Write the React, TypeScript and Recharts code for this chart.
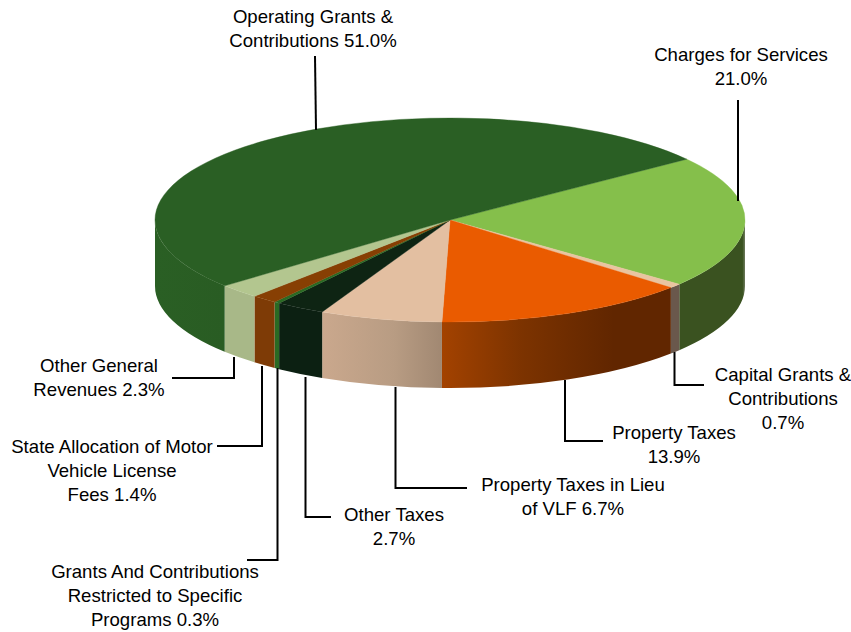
import { PieChart, Pie, Cell } from 'recharts';

const RADIUS_X = 295;
const RADIUS_Y = 102;
const DEPTH = 66;
const CENTER_X = 450;
const CENTER_Y = 220;
const START_ANGLE = 36.6;

const categories = [
  'Charges for Services',
  'Capital Grants & Contributions',
  'Property Taxes',
  'Property Taxes in Lieu of VLF',
  'Other Taxes',
  'Grants And Contributions Restricted to Specific Programs',
  'State Allocation of Motor Vehicle License Fees',
  'Other General Revenues',
  'Operating Grants & Contributions',
];
const shares = [21.0, 0.7, 13.9, 6.7, 2.7, 0.3, 1.4, 2.3, 51.0];
const topColors = ['#85bf4b', '#e9c4a0', '#ea5b00', '#e3bfa1', '#0e2413', '#2a6a24', '#873f03', '#b3c68f', '#2a5f24'];

// wall shading, left to right across each slice
const wallStops = [
  [[0, '#3a5220'], [0.96, '#3a5220'], [1, '#6d7a5c']],
  [[0, '#6a584c'], [1, '#6a584c']],
  [[0, '#a34200'], [0.35, '#7c3300'], [0.75, '#612600'], [1, '#612600']],
  [[0, '#caa88d'], [0.6, '#b89c83'], [1, '#a18872']],
  [[0, '#0c2012'], [1, '#0c2012']],
  [[0, '#2a6a24'], [1, '#2a6a24']],
  [[0, '#7e3b06'], [1, '#7e3b06']],
  [[0, '#a8b888'], [1, '#a8b888']],
  [[0, '#2a5f24'], [1, '#295c23']],
] as [number, string][][];

const labelLines = [
  ['Charges for Services', '21.0%'],
  ['Capital Grants &', 'Contributions', '0.7%'],
  ['Property Taxes', '13.9%'],
  ['Property Taxes in Lieu', 'of VLF 6.7%'],
  ['Other Taxes', '2.7%'],
  ['Grants And Contributions', 'Restricted to Specific', 'Programs 0.3%'],
  ['State Allocation of Motor', 'Vehicle License', 'Fees 1.4%'],
  ['Other General', 'Revenues 2.3%'],
  ['Operating Grants &', 'Contributions 51.0%'],
];

// label anchor (centre x, first baseline y) and leader line, by slice
const labelLayout: { x: number; y: number; line: string }[] = [
  { x: 741, y: 61, line: '738,100 738,201' },
  { x: 783, y: 381, line: '674.5,352 674.5,385 704,385' },
  { x: 674, y: 439, line: '565,380 565,441 603,441' },
  { x: 573, y: 491, line: '395.5,387 395.5,488 467,488' },
  { x: 394, y: 521, line: '305.5,377 305.5,517 331,517' },
  { x: 155, y: 578, line: '277.5,368 277.5,560 247,560' },
  { x: 112, y: 453, line: '262,366 262,446 217,446' },
  { x: 99, y: 372, line: '234,357 234,378 172,378' },
  { x: 313, y: 23, line: '315,56 316,130' },
];

const tableData = categories.map((name, i) => ({ name, value: shares[i] }));

const rimPoint = (deg: number, drop = 0) => {
  const a = (deg * Math.PI) / 180;
  return [CENTER_X + RADIUS_X * Math.cos(a), CENTER_Y - RADIUS_Y * Math.sin(a) + drop];
};

// draws one slice as a flattened wedge plus the visible part of its wall
const Slice3D = (props: any) => {
  const { startAngle, endAngle, name } = props;
  const idx = categories.indexOf(name);
  const [sx, sy] = rimPoint(startAngle);
  const [ex, ey] = rimPoint(endAngle);
  const large = startAngle - endAngle > 180 ? 1 : 0;
  const top = `M${CENTER_X},${CENTER_Y} L${sx},${sy} A${RADIUS_X},${RADIUS_Y} 0 ${large} 1 ${ex},${ey} Z`;

  const hi = Math.min(startAngle, 0);
  const lo = Math.max(endAngle, -180);
  let wall = null;
  if (hi > lo) {
    const [ax, ay] = rimPoint(hi);
    const [bx, by] = rimPoint(lo);
    const [cx, cy] = rimPoint(lo, DEPTH);
    const [dx, dy] = rimPoint(hi, DEPTH);
    wall = (
      <>
        <defs>
          <linearGradient id={`wall-${idx}`} x1="0" y1="0" x2="1" y2="0">
            {wallStops[idx].map(([o, c]) => (
              <stop key={o} offset={o} stopColor={c} />
            ))}
          </linearGradient>
        </defs>
        <path
          d={`M${ax},${ay} A${RADIUS_X},${RADIUS_Y} 0 0 1 ${bx},${by} L${cx},${cy} A${RADIUS_X},${RADIUS_Y} 0 0 0 ${dx},${dy} Z`}
          fill={`url(#wall-${idx})`}
        />
      </>
    );
  }
  return (
    <g>
      {wall}
      <path d={top} fill={topColors[idx]} stroke={topColors[idx]} strokeWidth={0.4} />
    </g>
  );
};

const SliceLabel = (props: any) => {
  const idx = categories.indexOf(props.name);
  const pos = labelLayout[idx];
  return (
    <g>
      <polyline points={pos.line} fill="none" stroke="#000" strokeWidth={2} />
      <text x={pos.x} y={pos.y} textAnchor="middle" fontFamily="Liberation Sans" fontSize={18.6} fill="#000">
        {labelLines[idx].map((t, i) => (
          <tspan key={t} x={pos.x} y={pos.y + i * 23.8}>
            {t}
          </tspan>
        ))}
      </text>
    </g>
  );
};

export default function App() {
  return (
    <div style={{ position: 'absolute', left: 0, top: 0, width: 851, height: 632, background: '#fff' }}>
      <PieChart width={851} height={632} margin={{ top: 0, right: 0, bottom: 0, left: 0 }}>
        <Pie
          data={tableData}
          dataKey="value"
          nameKey="name"
          cx={CENTER_X}
          cy={CENTER_Y}
          innerRadius={0}
          outerRadius={RADIUS_X}
          startAngle={START_ANGLE}
          endAngle={START_ANGLE - 360}
          paddingAngle={0}
          stroke="none"
          isAnimationActive={false}
          shape={Slice3D}
          label={SliceLabel}
          labelLine={false}
        >
          {tableData.map((d, i) => (
            <Cell key={d.name} fill={topColors[i]} />
          ))}
        </Pie>
      </PieChart>
    </div>
  );
}
